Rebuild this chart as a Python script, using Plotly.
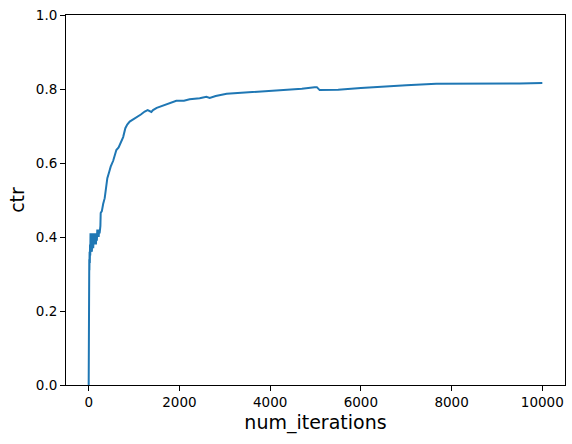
"""Cumulative CTR over iterations, redrawn with Plotly."""

import plotly.graph_objects as go

# early, noisy stretch (iterations 0..250)
early_iter = [0, 1, 2, 3, 4, 6, 8, 10, 13, 16, 20, 25, 30, 35, 40, 45, 50, 55, 60,
              70, 80, 90, 100, 110, 120, 130, 140, 150, 160, 170, 180, 190, 200,
              210, 220, 230, 240, 250]
early_ctr = [0.0, 0.25, 0.33, 0.26, 0.31, 0.33, 0.29, 0.32, 0.34, 0.31, 0.36, 0.33,
             0.38, 0.35, 0.41, 0.36, 0.40, 0.37, 0.41, 0.36, 0.39, 0.41, 0.37, 0.40,
             0.38, 0.41, 0.39, 0.40, 0.38, 0.41, 0.39, 0.42, 0.40, 0.41, 0.40, 0.42,
             0.41, 0.42]

# smoother rest of the run
late_iter = [258, 265, 290, 320, 353, 380, 411, 450, 485, 540, 575, 610, 660, 720,
             760, 808, 850, 904, 960, 1051, 1150, 1235, 1300, 1382, 1418, 1500,
             1565, 1700, 1850, 1932, 2100, 2226, 2447, 2594, 2668, 2800, 3042,
             3300, 3530, 3937, 4310, 4700, 4980, 5030, 5092, 5500, 6000, 6468,
             7000, 7660, 8300, 8929, 9500, 10000]
late_ctr = [0.43, 0.465, 0.47, 0.49, 0.505, 0.530, 0.559, 0.575, 0.590, 0.606,
            0.618, 0.635, 0.642, 0.662, 0.670, 0.694, 0.704, 0.712, 0.716, 0.723,
            0.731, 0.739, 0.743, 0.738, 0.743, 0.749, 0.752, 0.757, 0.763, 0.768,
            0.768, 0.772, 0.775, 0.779, 0.776, 0.781, 0.787, 0.789, 0.792, 0.795,
            0.798, 0.801, 0.805, 0.805, 0.797, 0.798, 0.803, 0.807, 0.810, 0.814,
            0.814, 0.813, 0.815, 0.816]

x_ticks = [0, 2000, 4000, 6000, 8000, 10000]
x_labels = [str(v) for v in x_ticks]
y_ticks = [0.0, 0.2, 0.4, 0.6, 0.8, 1.0]

iters = early_iter + late_iter
ctr = early_ctr + late_ctr

fig = go.Figure()
fig.add_trace(go.Scatter(
    x=iters,
    y=ctr,
    mode='lines',
    line=dict(color='#1f77b4', width=2),
    showlegend=False
))

axis_common = dict(
    showgrid=False,
    zeroline=False,
    showline=True,
    linecolor='black',
    linewidth=1,
    mirror=True,
    ticks='outside',
    ticklen=5,
    tickwidth=1,
    tickcolor='black',
    tickfont=dict(size=13.5, color='black'),
    automargin=False,
)

fig.update_layout(
    width=572,
    height=444,
    margin=dict(l=66, r=7, t=15, b=59),
    paper_bgcolor='white',
    plot_bgcolor='white',
    font=dict(family='DejaVu Sans', color='black'),
    xaxis=dict(range=[-500, 10500], tickvals=x_ticks, ticktext=x_labels,
               title=dict(text='num_iterations', font=dict(size=19), standoff=6),
               **axis_common),
    yaxis=dict(range=[0, 1], tickvals=y_ticks, tickformat='.1f',
               title=dict(text='ctr', font=dict(size=19), standoff=6),
               **axis_common),
)

# drop the browser's default 8px body margin so the figure sits at 0,0
fig.write_html("out.html", config={'displayModeBar': False},
               post_script="document.body.style.margin='0';")
